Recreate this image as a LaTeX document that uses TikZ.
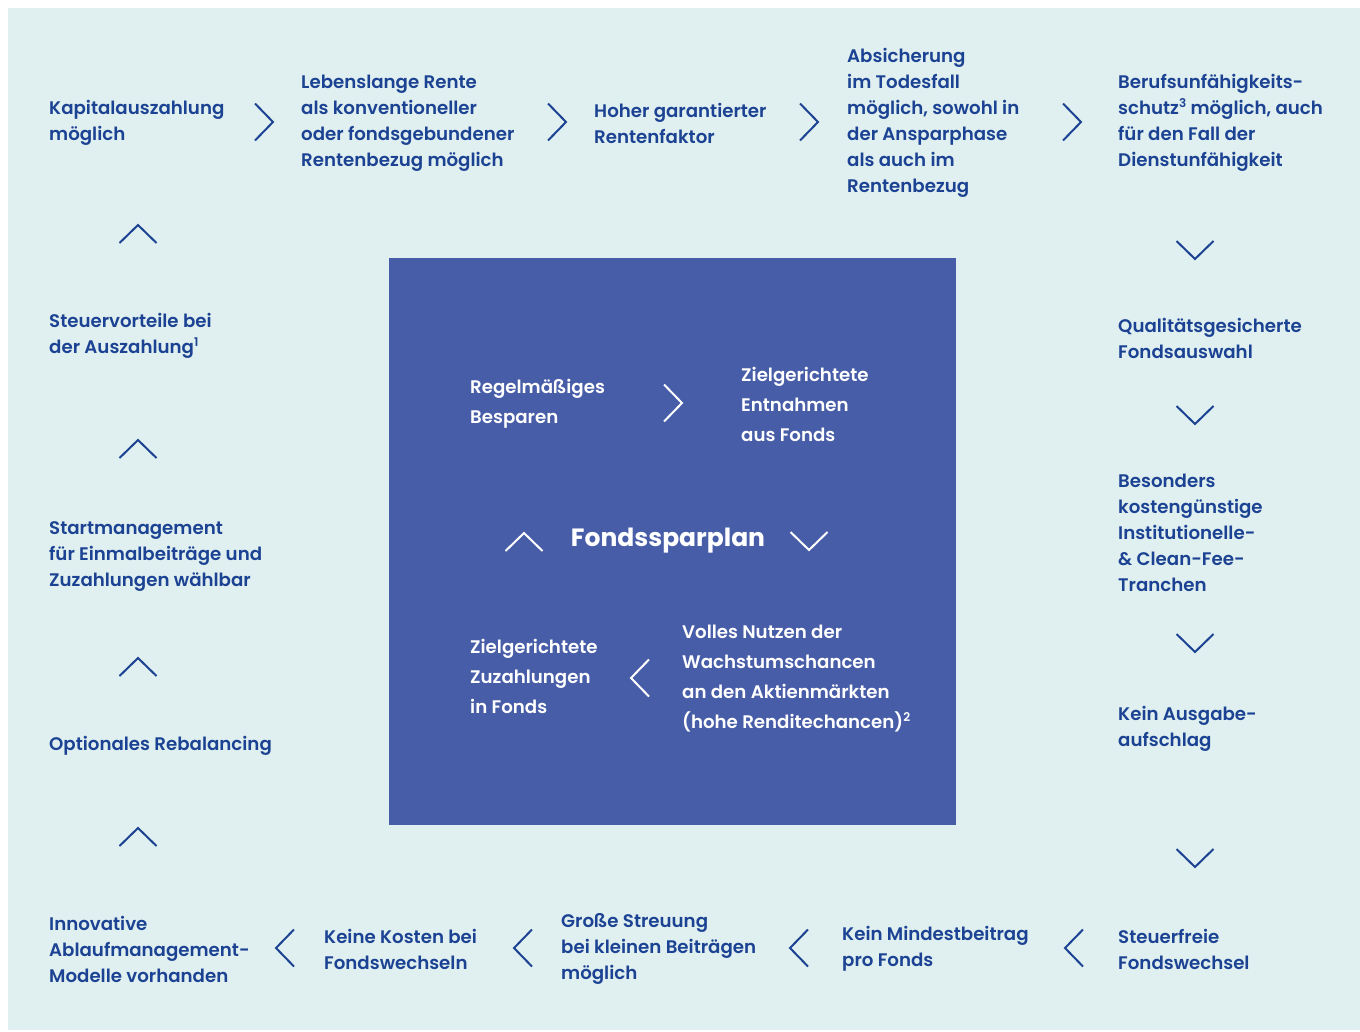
\documentclass[tikz,border=0pt]{standalone}
\usepackage{fontspec}
\setmainfont{Poppins}[BoldFont={Poppins SemiBold}]
\newfontface\heavyfont{Poppins Bold}
\usepackage{tikz}
\usetikzlibrary{positioning}

\definecolor{bgteal}{HTML}{E0EFEF}
\definecolor{boxblue}{HTML}{485DA8}
\definecolor{navy}{HTML}{1C4393}
\newcommand{\supnum}[1]{\raisebox{0.4em}{\fontsize{12}{12}\selectfont\bfseries #1}}

\begin{document}
\begin{tikzpicture}[
    x=1pt, y=-1pt,
    feature/.style={anchor=west, align=left, inner sep=0pt, text=navy, yshift=-1pt,
      font=\fontsize{18.2}{26}\selectfont\bfseries},
    inner feature/.style={feature, text=white,
      font=\fontsize{18.2}{30}\selectfont\bfseries},
    chev/.pic={\draw[pic actions, line width=2pt] (-9pt,18.5pt) -- (9pt,0pt) -- (-9pt,-18.5pt);},
    navy chev/.style={draw=navy},
    white chev/.style={draw=white}
]
    \useasboundingbox (0,0) rectangle (1360,1031);
    \fill[white] (0,0) rectangle (1360,1031);
    \fill[bgteal] (8,8) rectangle (1360,1030);
    \fill[boxblue] (389,258) rectangle (956,825);

    % top row
    \node[feature] (kapital) at (49,122) {Kapitalauszahlung\\möglich};
    \node[feature] (rente) at (301,122) {Lebenslange Rente\\als konventioneller\\oder fondsgebundener\\Rentenbezug möglich};
    \node[feature] (faktor) at (594,122) {Hoher garantierter\\Rentenfaktor};
    \node[feature] (todesfall) at (847,122) {Absicherung\\im Todesfall\\möglich, sowohl in\\der Ansparphase\\als auch im\\Rentenbezug};
    \node[feature] (bu) at (1118,122) {Berufsunfähigkeits-\\schutz\supnum{3} möglich, auch\\für den Fall der\\Dienstunfähigkeit};

    % right column
    \node[feature] (qualitaet) at (1118,337) {Qualitätsgesicherte\\Fondsauswahl};
    \node[feature] (tranchen) at (1118,532) {Besonders\\kostengünstige\\Institutionelle-\\\& Clean-Fee-\\Tranchen};
    \node[feature] (ausgabe) at (1118,728) {Kein Ausgabe-\\aufschlag};
    \node[feature] (steuerfrei) at (1118,948) {Steuerfreie\\Fondswechsel};

    % bottom row
    \node[feature] (mindest) at (842,948) {Kein Mindestbeitrag\\pro Fonds};
    \node[feature] (streuung) at (561,948) {Große Streuung\\bei kleinen Beiträgen\\möglich};
    \node[feature] (kosten) at (324,948) {Keine Kosten bei\\Fondswechseln};
    \node[feature] (ablauf) at (49,948) {Innovative\\Ablaufmanagement-\\Modelle vorhanden};

    % left column
    \node[feature] (rebalancing) at (49,745) {Optionales Rebalancing};
    \node[feature] (start) at (49,556) {Startmanagement\\für Einmalbeiträge und\\Zuzahlungen wählbar};
    \node[feature] (steuer) at (49,335) {Steuervorteile bei\\der Auszahlung\supnum{1}};

    % centre box
    \node[inner feature] (besparen) at (470,403) {Regelmäßiges\\Besparen};
    \node[inner feature] (entnahmen) at (741,403) {Zielgerichtete\\Entnahmen\\aus Fonds};
    \node[inner feature] (zuzahlungen) at (470,675) {Zielgerichtete\\Zuzahlungen\\in Fonds};
    \node[inner feature] (nutzen) at (682,678) {Volles Nutzen der\\Wachstumschancen\\an den Aktienmärkten\\(hohe Renditechancen)\supnum{2}};
    \node[inner sep=0pt, text=white, font=\fontsize{25}{30}\heavyfont] (plan) at (668,541) {Fondssparplan};

    % chevrons, outer ring
    \pic[navy chev] at (264,122) {chev};
    \pic[navy chev] at (557,122) {chev};
    \pic[navy chev] at (809,122) {chev};
    \pic[navy chev] at (1072,122) {chev};
    \foreach \y in {250,415,643,858}
      \pic[navy chev, rotate=-90] at (1195,\y) {chev};
    \foreach \x in {1074,799,523,285}
      \pic[navy chev, rotate=180] at (\x,948) {chev};
    \foreach \y in {837,667,449,234}
      \pic[navy chev, rotate=90] at (138,\y) {chev};

    % chevrons, centre box
    \pic[white chev] at (673,403) {chev};
    \pic[white chev, rotate=180] at (640,678) {chev};
    \pic[white chev, rotate=90] at (524,542) {chev};
    \pic[white chev, rotate=-90] at (809,541) {chev};
\end{tikzpicture}
\end{document}
